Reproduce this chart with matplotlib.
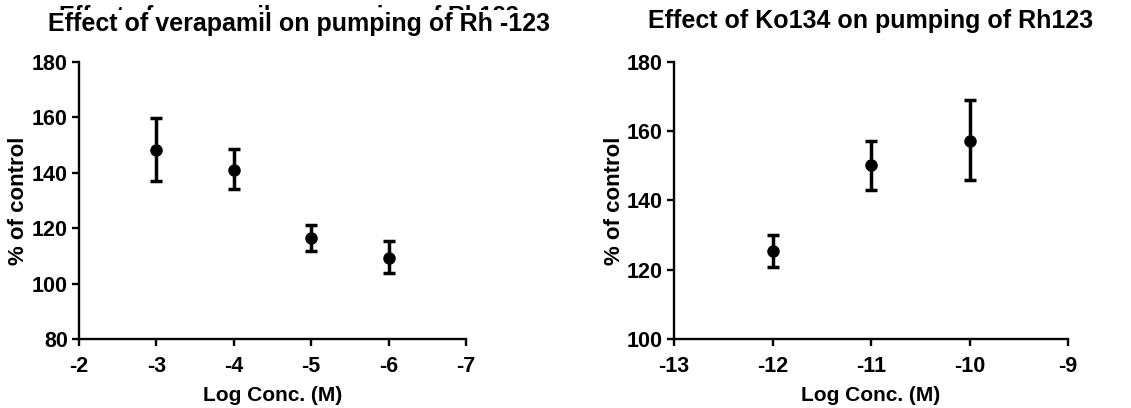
import matplotlib
matplotlib.use("Agg")
import matplotlib.pyplot as plt
from matplotlib.transforms import Bbox

plt.rcParams['font.family'] = ['Liberation Sans', 'DejaVu Sans']
plt.rcParams['font.weight'] = 'bold'
TICK_FONT = ['Liberation Sans Narrow', 'Liberation Sans']

# verapamil panel
vera_x = [-3, -4, -5, -6]
vera_y = [148.3, 141.0, 116.4, 109.4]
vera_lo = [137.0, 134.2, 111.9, 103.7]
vera_hi = [159.7, 148.5, 121.0, 115.3]

# Ko134 panel
ko_x = [-12, -11, -10]
ko_y = [125.5, 150.3, 157.3]
ko_lo = [120.9, 143.0, 145.9]
ko_hi = [129.9, 157.3, 169.0]

W, H = 1131, 408
fig = plt.figure(figsize=(W / 100, H / 100), dpi=100)

ax1 = fig.add_axes([79 / W, (H - 339) / H, 387 / W, 277 / H])
ax2 = fig.add_axes([674 / W, (H - 339) / H, 394 / W, 277 / H])


def draw(ax, x, y, lo, hi, xt, yt, ylab_x):
    yerr = [[a - b for a, b in zip(y, lo)], [b - a for a, b in zip(y, hi)]]
    ax.errorbar(x, y, yerr=yerr, fmt='o', color='black', ms=8,
                elinewidth=2.5, capsize=4.5, capthick=2.5)
    for s in ['top', 'right']:
        ax.spines[s].set_visible(False)
    for s in ['left', 'bottom']:
        ax.spines[s].set_linewidth(1.7)
    ax.tick_params(width=1.7, length=5, pad=3)
    ax.tick_params(axis='x', pad=7)
    ax.set_xticks(xt)
    ax.set_yticks(yt)
    ax.set_xticklabels([str(v) for v in xt], family=TICK_FONT,
                       fontsize=15.5, fontweight='bold')
    ax.set_yticklabels([str(v) for v in yt], family=TICK_FONT,
                       fontsize=15.5, fontweight='bold')
    ax.set_xlabel('Log Conc. (M)', fontsize=15, fontweight='bold', labelpad=7)
    ax.set_ylabel('% of control', fontsize=16, fontweight='bold')
    ax.yaxis.set_label_coords(ylab_x, 0.5)


draw(ax1, vera_x, vera_y, vera_lo, vera_hi,
     [-2, -3, -4, -5, -6, -7], [80, 100, 120, 140, 160, 180], -0.13)
ax1.set_xlim(-2, -7)
ax1.set_ylim(80, 180)

draw(ax2, ko_x, ko_y, ko_lo, ko_hi,
     [-13, -12, -11, -10, -9], [100, 120, 140, 160, 180], -0.124)
ax2.set_xlim(-13, -9)
ax2.set_ylim(100, 180)

# older title behind the left one, only its top edge shows
ghost = fig.text(289 / W, 1 - 5 / H, 'Effect of verapamil on pumping of Rh123',
                 ha='center', va='top', fontsize=17, fontweight='bold')
ghost.set_clip_box(Bbox.from_extents(0, H - 10, W, H))
ghost.set_clip_on(True)

fig.text(299 / W, 1 - 24 / H, 'Effect of verapamil on pumping of Rh -123',
         ha='center', va='center', fontsize=18, fontweight='bold')
fig.text(871 / W, 1 - 21 / H, 'Effect of Ko134 on pumping of Rh123',
         ha='center', va='center', fontsize=18, fontweight='bold')

fig.savefig('out.png', dpi=100)
